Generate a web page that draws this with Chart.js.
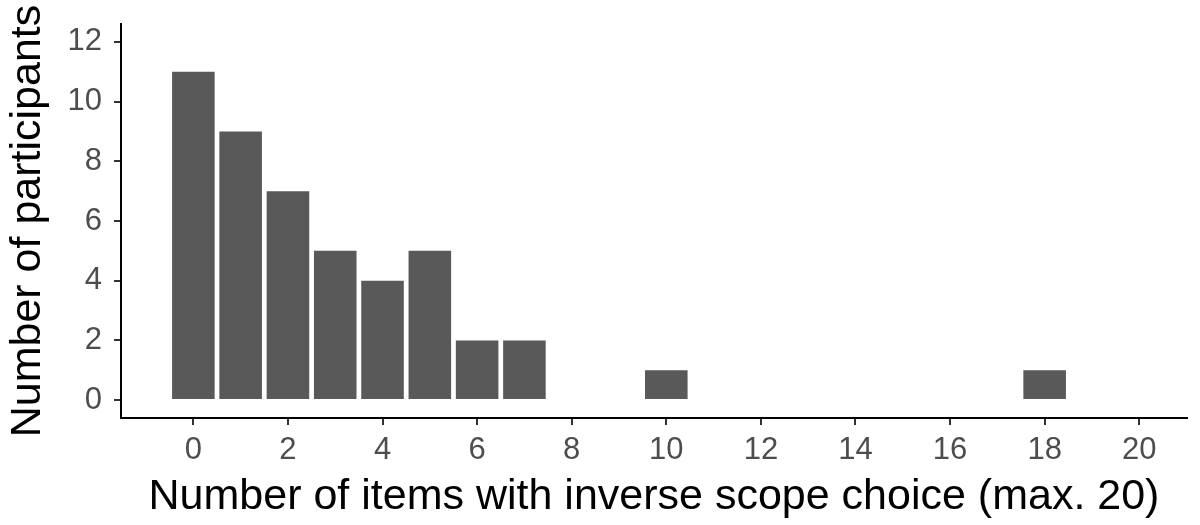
<!DOCTYPE html>
<html>
<head>
<meta charset="utf-8">
<script src="https://cdn.jsdelivr.net/npm/chart.js@4"></script>
<style>
  html, body { margin: 0; padding: 0; background: #fff; }
  #wrap { width: 1200px; height: 525px; }
</style>
</head>
<body>
<div id="wrap"><canvas id="hist"></canvas></div>
<script>
// inverse scope choices per participant (count of items, out of 20)
const itemCounts = [0, 1, 2, 3, 4, 5, 6, 7, 10, 18];
const participants = [11, 9, 7, 5, 4, 5, 2, 2, 1, 1];
const xTicks = [0, 2, 4, 6, 8, 10, 12, 14, 16, 18, 20];
const yTicks = [0, 2, 4, 6, 8, 10, 12];

const FONT = "'Liberation Sans', Arial, sans-serif";
Chart.defaults.font.family = FONT;

const ctx = document.getElementById('hist').getContext('2d');

new Chart(ctx, {
  type: 'bar',
  data: {
    datasets: [{
      data: itemCounts.map((x, i) => ({ x: x, y: participants[i] })),
      backgroundColor: '#595959',
      borderWidth: 0,
      categoryPercentage: 1,
      barPercentage: 0.9
    }]
  },
  options: {
    responsive: true,
    maintainAspectRatio: false,
    animation: false,
    layout: { padding: { top: 24, right: 13, left: 0, bottom: 0 } },
    plugins: {
      legend: { display: false },
      tooltip: { enabled: false }
    },
    scales: {
      x: {
        type: 'linear',
        offset: false,
        min: -1.53,
        max: 21.01,
        afterBuildTicks: s => { s.ticks = xTicks.map(v => ({ value: v })); },
        afterFit: s => { s.height = 107; s.paddingLeft = 0; s.paddingRight = 0; },
        border: { display: true, color: '#000', width: 2 },
        grid: { offset: false, drawOnChartArea: false, drawTicks: true, tickLength: 7, color: '#333', lineWidth: 2 },
        ticks: { color: '#4d4d4d', font: { size: 31 }, padding: 7, maxRotation: 0, autoSkip: false },
        title: {
          display: true,
          text: 'Number of items with inverse scope choice (max. 20)',
          color: '#000',
          font: { size: 43 },
          padding: { top: 0, bottom: 2 }
        }
      },
      y: {
        min: -0.6,
        max: 12.6,
        afterBuildTicks: s => { s.ticks = yTicks.map(v => ({ value: v })); },
        afterFit: s => { s.width = 121; s.paddingTop = 0; s.paddingBottom = 0; },
        border: { display: true, color: '#000', width: 2 },
        grid: { drawOnChartArea: false, drawTicks: true, tickLength: 7, color: '#333', lineWidth: 2 },
        ticks: { color: '#4d4d4d', font: { size: 31 }, padding: 12 },
        title: {
          display: true,
          text: 'Number of participants',
          color: '#000',
          font: { size: 43 },
          padding: { top: 2, bottom: 0 }
        }
      }
    }
  }
});
</script>
</body>
</html>
